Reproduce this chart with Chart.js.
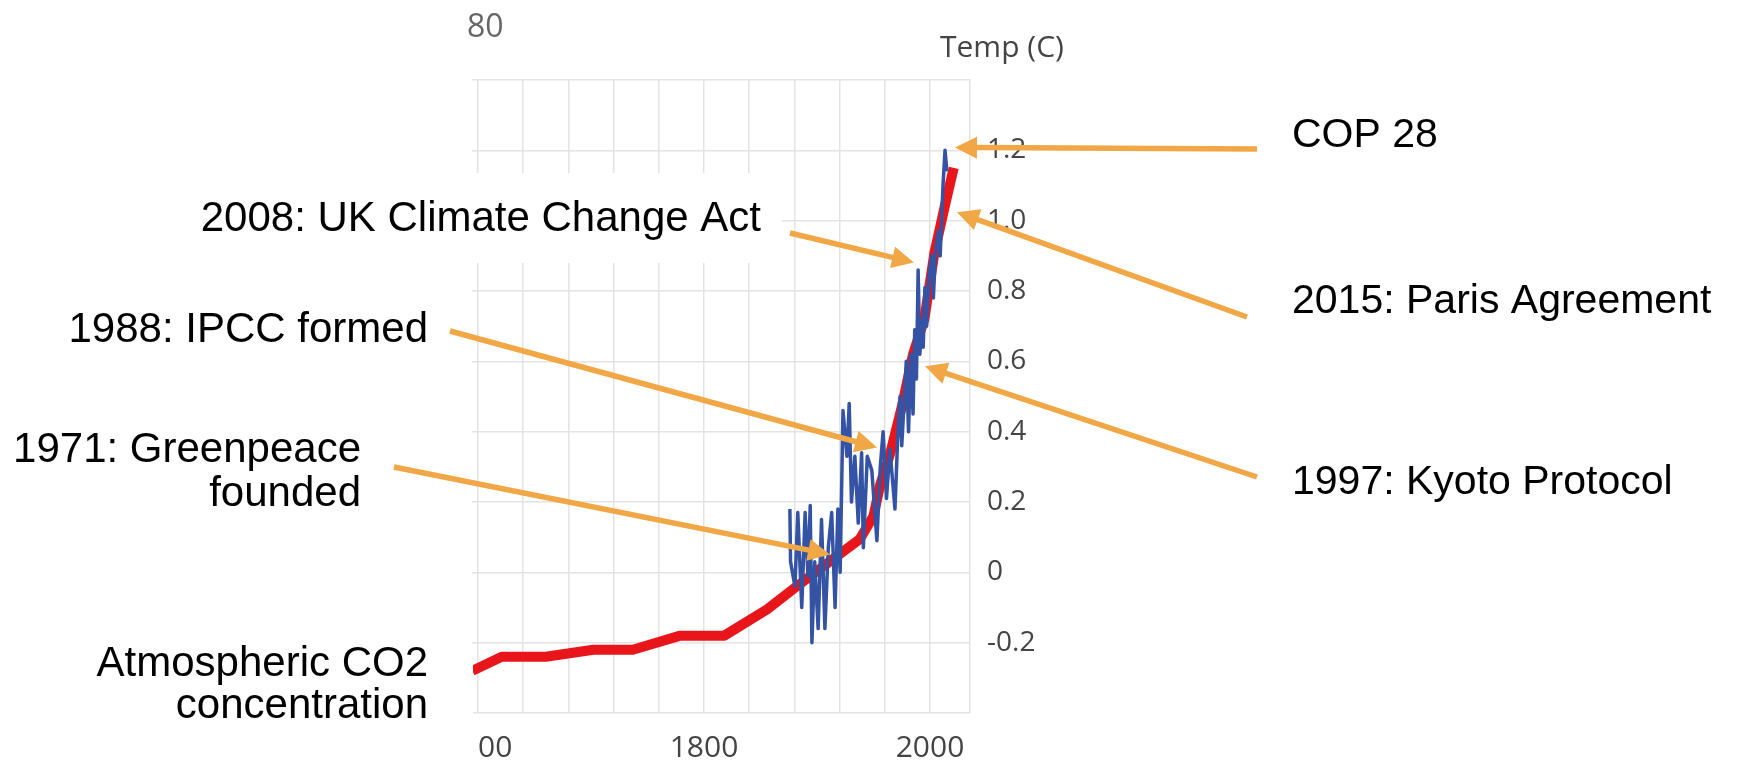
<!DOCTYPE html>
<html>
<head>
<meta charset="utf-8">
<script src="https://cdn.jsdelivr.net/npm/chart.js@4.4.1/dist/chart.umd.min.js"></script>
<style>
html,body{margin:0;padding:0;background:#fff;overflow:hidden}
canvas{display:block}
</style>
</head>
<body>
<canvas id="c" width="1742" height="761"></canvas>
<script>
// ---- data ----
const co2Years  = [1595,1621,1660,1702,1737,1779,1818,1856,1882,1911,1938,1950,1956,1965,1975,1985,1995,2004,2013,2021];
const co2Values = [272,276,276,278,278,282,282,289.5,296,303,309.5,316,325,334,347,362,372,391,404,415];

const tempYears  = [1876,1876.6,1880.5,1883,1886.5,1889.5,1892,1894,1895.5,1898,
                    1901,1904,1907,1910,1913,1916,1918.5,1920.5,1923,1926.5,
                    1928.5,1930.5,1933.5,1936.5,1939.5,1941,1944.5,1948.5,1953,1956,
                    1958.5,1961.5,1964.5,1969,1972,1973.5,1975,1977,1979,1981,
                    1983,1985,1986.5,1988,1989.5,1991,1993,1994,1995.5,1997,
                    1999,2001.5,2003,2005,2007.5,2009,2011.5,2013.3,2015];
const tempValues = [0.18,0.03,-0.04,0.17,-0.10,0.17,-0.01,0.19,-0.20,0.03,
                    -0.16,0.15,-0.16,0.07,0.17,-0.10,0.18,0.00,0.46,0.33,
                    0.48,0.20,0.33,0.14,0.34,0.07,0.33,0.29,0.09,0.30,
                    0.40,0.21,0.35,0.18,0.43,0.50,0.36,0.48,0.60,0.40,
                    0.62,0.45,0.69,0.55,0.86,0.62,0.72,0.64,0.81,0.70,
                    0.84,0.90,0.78,0.92,0.97,0.90,1.10,1.20,1.14];

const xGridYears  = [1600,1640,1680,1720,1760,1800,1840,1880,1920,1960,2000];
const xLabelYears = [1600, 1800, 2000];
const tempLabelRange = [-0.2, 1.2];
const tempAxisTitle = 'Temp (C)';
const co2AxisFragment = '80';

// event annotations: text lines and the (year, temp) point each arrow points at
const eventTexts  = [['COP 28'], ['2015: Paris Agreement'], ['1997: Kyoto Protocol'],
                     ['2008: UK Climate Change Act'], ['1988: IPCC formed'],
                     ['1971: Greenpeace', 'founded'], ['Atmospheric CO2', 'concentration']];
const eventTargetYears = [2022.1, 2023.9, 1995.6, 1985.8, 1953.1, 1911.5, null];
const eventTargetTemps = [1.208, 1.024, 0.586, 0.881, 0.355, 0.051, null];

// ---- layout / style (not data) ----
const ORANGE = '#f1a745';
const GRID = '#e3e3e3';
const AXIS_FONT = '"Open Sans", Lato, sans-serif';
const textLayout = [
  {x:1292, y:136, align:'left',  size:41, tail:[1257,149]},
  {x:1292, y:302, align:'left',  size:41, tail:[1247,317]},
  {x:1292, y:483, align:'left',  size:41, tail:[1257,477]},
  {x:761,  y:219, align:'right', size:42, tail:[790,233]},
  {x:428,  y:330, align:'right', size:42, tail:[450,331]},
  {x:361,  y:450, align:'right', size:42, tail:[394,467], lh:44},
  {x:428,  y:664, align:'right', size:42, tail:null, lh:42}
];
// white text-box backgrounds that hide parts of the chart, as in the reference collage
const coverBoxes = [[180,173,602,90], [0,650,473,76], [0,726,477,35]];

function drawArrow(ctx, x1, y1, x2, y2) {
  const a = Math.atan2(y2 - y1, x2 - x1);
  const hl = 22, hw = 11;
  const bx = x2 - hl * Math.cos(a), by = y2 - hl * Math.sin(a);
  ctx.strokeStyle = ORANGE; ctx.fillStyle = ORANGE;
  ctx.lineWidth = 5.5; ctx.lineCap = 'butt';
  ctx.beginPath(); ctx.moveTo(x1, y1);
  ctx.lineTo(bx + 3 * Math.cos(a), by + 3 * Math.sin(a)); ctx.stroke();
  ctx.beginPath(); ctx.moveTo(x2, y2);
  ctx.lineTo(bx + hw * Math.sin(a), by - hw * Math.cos(a));
  ctx.lineTo(bx - hw * Math.sin(a), by + hw * Math.cos(a));
  ctx.closePath(); ctx.fill();
}

const overlay = {
  id: 'overlay',
  afterDraw(chart) {
    const ctx = chart.ctx, xs = chart.scales.x, ys = chart.scales.y;
    ctx.save();
    ctx.fillStyle = '#fff';
    coverBoxes.forEach(b => ctx.fillRect(b[0], b[1], b[2], b[3]));
    textLayout.forEach((t, i) => {
      if (!t.tail || eventTargetYears[i] == null) return;
      drawArrow(ctx, t.tail[0], t.tail[1],
        xs.getPixelForValue(eventTargetYears[i]), ys.getPixelForValue(eventTargetTemps[i]));
    });
    ctx.fillStyle = '#000';
    ctx.textBaseline = 'middle';
    textLayout.forEach((t, i) => {
      ctx.font = t.size + 'px "Liberation Sans", Arial, sans-serif';
      ctx.textAlign = t.align;
      eventTexts[i].forEach((line, k) => ctx.fillText(line, t.x, t.y + k * (t.lh || 44)));
    });
    ctx.textAlign = 'left';
    ctx.fillStyle = '#444';
    ctx.font = '30px ' + AXIS_FONT;
    ctx.fillText(tempAxisTitle, 940, 48);
    ctx.fillStyle = '#666';
    ctx.font = '32px ' + AXIS_FONT;
    ctx.fillText(co2AxisFragment, 467, 28);
    ctx.restore();
  }
};

Chart.defaults.font.family = AXIS_FONT;

new Chart(document.getElementById('c'), {
  type: 'line',
  data: {
    datasets: [
      {
        label: 'Temperature',
        data: tempYears.map((yr, i) => ({x: yr, y: tempValues[i]})),
        yAxisID: 'y',
        borderColor: '#3553a4',
        borderWidth: 3.5,
        borderJoinStyle: 'round',
        pointRadius: 0,
        tension: 0
      },
      {
        label: 'Atmospheric CO2 concentration',
        data: co2Years.map((yr, i) => ({x: yr, y: co2Values[i]})),
        yAxisID: 'y1',
        borderColor: '#e8161b',
        borderWidth: 10,
        borderJoinStyle: 'round',
        pointRadius: 0,
        tension: 0
      }
    ]
  },
  options: {
    responsive: false,
    animation: false,
    devicePixelRatio: 1,
    layout: {padding: {left: 472, top: 80, right: 672, bottom: 0}},
    plugins: {legend: {display: false}, tooltip: {enabled: false}},
    scales: {
      x: {
        type: 'linear',
        min: 1594.7,
        max: 2035.4,
        afterBuildTicks: s => { s.ticks = xGridYears.map(v => ({value: v})); },
        afterFit: s => { s.height = 48; },
        border: {display: false},
        grid: {color: GRID, lineWidth: 1.5, drawTicks: false},
        ticks: {
          autoSkip: false,
          maxRotation: 0,
          padding: 17,
          color: '#444',
          font: {size: 30},
          callback: v => xLabelYears.includes(Math.round(v)) ? String(Math.round(v)) : ''
        }
      },
      y: {
        type: 'linear',
        position: 'right',
        min: -0.4,
        max: 1.4,
        afterFit: s => { s.width = 100; },
        border: {display: true, color: GRID, width: 1.5},
        grid: {color: GRID, lineWidth: 1.5, drawTicks: false},
        ticks: {
          stepSize: 0.2,
          padding: 17,
          color: '#444',
          font: {size: 28},
          callback: v => {
            const r = Math.round(v * 10) / 10;
            if (r < tempLabelRange[0] - 1e-9 || r > tempLabelRange[1] + 1e-9) return '';
            return r === 0 ? '0' : r.toFixed(1);
          }
        }
      },
      y1: {
        type: 'linear',
        position: 'left',
        display: false,
        min: 260,
        max: 440
      }
    }
  },
  plugins: [overlay]
});
</script>
</body>
</html>
